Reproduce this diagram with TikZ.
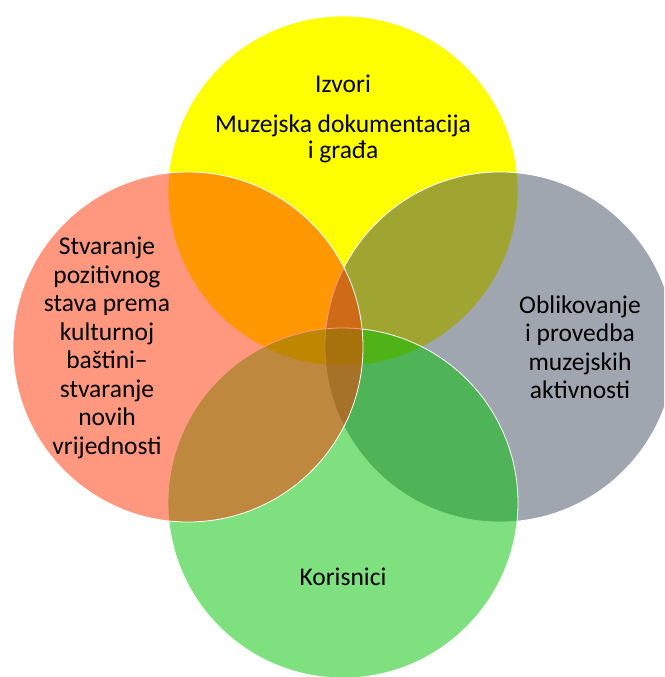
\documentclass[tikz,border=0pt]{standalone}
\usepackage{fontspec}
\setmainfont{Carlito}
\usepackage{xcolor}
\usepackage{tikz}
\usetikzlibrary{positioning}
\definecolor{topyellow}{HTML}{FFFF00}
\definecolor{rightgray}{HTML}{414D61}
\definecolor{bottomgreen}{HTML}{00C100}
\definecolor{leftsalmon}{HTML}{FF3100}
\tikzset{
    venn circle/.style={
        circle, draw=white, line width=0.8pt,
        fill=#1, fill opacity=0.5,
        minimum size=350pt, inner sep=0pt
    },
    venn text/.style={
        align=center, inner sep=0pt, text=black,
        font=\fontsize{25.5}{28.5}\selectfont
    },
}

\begin{document}
\begin{tikzpicture}[x=1pt, y=-1pt]

    \useasboundingbox (0,0) rectangle (664,677);
    \clip (0,0) rectangle (664,677);

    % ── Circles ──
    \node[venn circle=topyellow, fill opacity=1] (cTop) at (343,191) {};
    \node[venn circle=rightgray] (cRight) at (500,347) {};
    \node[venn circle=bottomgreen] (cBottom) at (343,503) {};
    \node[venn circle=leftsalmon] (cLeft) at (188,347) {};

    % ── Labels ──
    \node[venn text] (izvori) at (343,84) {Izvori};
    \node[venn text, font=\fontsize{25.5}{26}\selectfont] (muzejska) at (343,139)
        {Muzejska dokumentacija\\i građa};
    \node[venn text] (stvaranje) at (107,348)
        {Stvaranje\\pozitivnog\\stava prema\\kulturnoj\\baštini–\\stvaranje\\novih\\vrijednosti};
    \node[venn text] (oblikovanje) at (580,347)
        {Oblikovanje\\i provedba\\muzejskih\\aktivnosti};
    \node[venn text] (korisnici) at (343,577) {Korisnici};

\end{tikzpicture}
\end{document}
